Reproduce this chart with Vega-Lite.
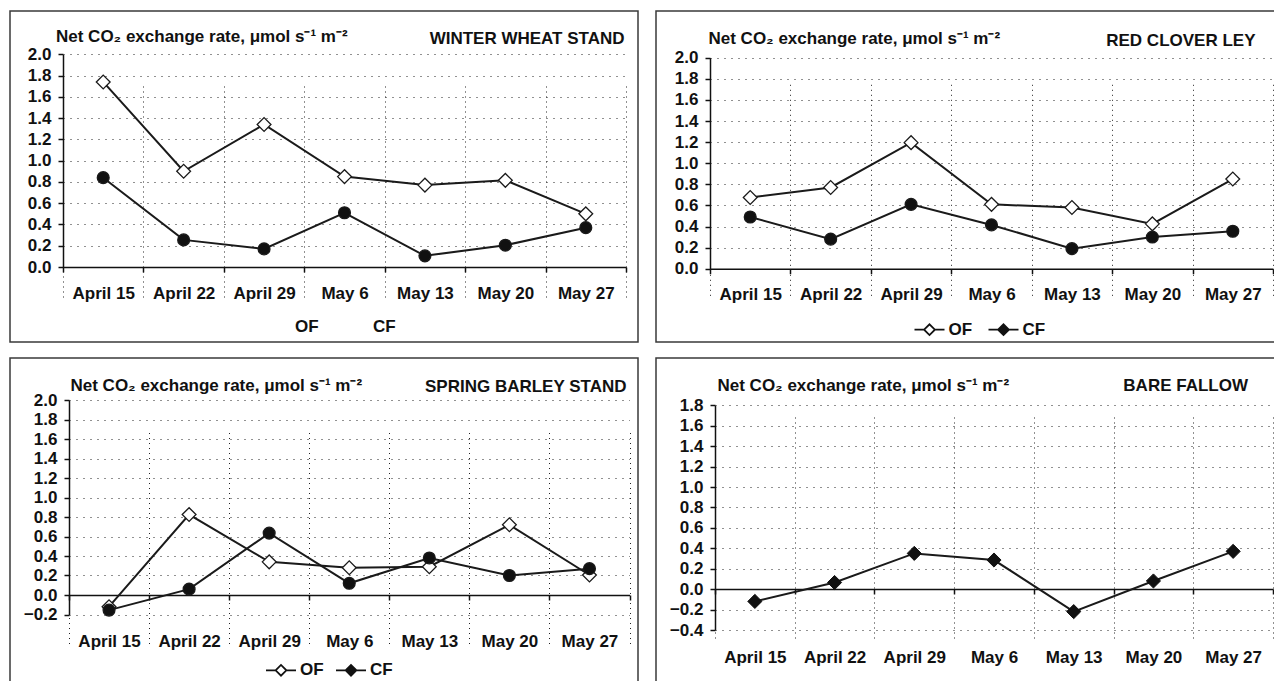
{
  "$schema": "https://vega.github.io/schema/vega-lite/v6.json",
  "padding": {"left": 9, "top": 10, "right": 0, "bottom": 0},
  "background": "white",
  "spacing": 14,
  "config": {
    "font": "Liberation Sans",
    "view": {"stroke": "#3a3a3a", "strokeWidth": 1.5},
    "axis": {
      "labelFont": "Liberation Sans", "labelFontSize": 17, "labelFontWeight": "bold", "labelColor": "#111",
      "titleFont": "Liberation Sans", "titleFontSize": 17, "titleFontWeight": "bold", "titleColor": "#111",
      "domainColor": "#111", "domainWidth": 1.5, "tickColor": "#111", "tickWidth": 1.5, "tickSize": 5,
      "gridColor": "#222", "gridWidth": 1, "gridOpacity": 1
    },
    "axisX": {"gridDash": [1, 4], "labelAngle": 0, "titleAlign": "right", "titleBaseline": "middle"},
    "axisY": {"gridDash": [1, 6], "titleAngle": 0, "titleAlign": "left", "titleBaseline": "middle", "format": ".1f", "labelPadding": 7},
    "legend": {"labelFont": "Liberation Sans", "labelFontSize": 17, "labelFontWeight": "bold", "labelColor": "#111", "padding": 0}
  },
  "datasets": {
    "rows": [
      {"panel": "wheat", "series": "OF", "date": "April 15", "value": 1.74},
      {"panel": "wheat", "series": "OF", "date": "April 22", "value": 0.9},
      {"panel": "wheat", "series": "OF", "date": "April 29", "value": 1.34},
      {"panel": "wheat", "series": "OF", "date": "May 6", "value": 0.85},
      {"panel": "wheat", "series": "OF", "date": "May 13", "value": 0.77},
      {"panel": "wheat", "series": "OF", "date": "May 20", "value": 0.815},
      {"panel": "wheat", "series": "OF", "date": "May 27", "value": 0.5},
      {"panel": "wheat", "series": "CF", "date": "April 15", "value": 0.84},
      {"panel": "wheat", "series": "CF", "date": "April 22", "value": 0.255},
      {"panel": "wheat", "series": "CF", "date": "April 29", "value": 0.17},
      {"panel": "wheat", "series": "CF", "date": "May 6", "value": 0.51},
      {"panel": "wheat", "series": "CF", "date": "May 13", "value": 0.105},
      {"panel": "wheat", "series": "CF", "date": "May 20", "value": 0.205},
      {"panel": "wheat", "series": "CF", "date": "May 27", "value": 0.37},
      {"panel": "clover", "series": "OF", "date": "April 15", "value": 0.675},
      {"panel": "clover", "series": "OF", "date": "April 22", "value": 0.77},
      {"panel": "clover", "series": "OF", "date": "April 29", "value": 1.195},
      {"panel": "clover", "series": "OF", "date": "May 6", "value": 0.61},
      {"panel": "clover", "series": "OF", "date": "May 13", "value": 0.58},
      {"panel": "clover", "series": "OF", "date": "May 20", "value": 0.425},
      {"panel": "clover", "series": "OF", "date": "May 27", "value": 0.85},
      {"panel": "clover", "series": "CF", "date": "April 15", "value": 0.49},
      {"panel": "clover", "series": "CF", "date": "April 22", "value": 0.28},
      {"panel": "clover", "series": "CF", "date": "April 29", "value": 0.61},
      {"panel": "clover", "series": "CF", "date": "May 6", "value": 0.415},
      {"panel": "clover", "series": "CF", "date": "May 13", "value": 0.19},
      {"panel": "clover", "series": "CF", "date": "May 20", "value": 0.3},
      {"panel": "clover", "series": "CF", "date": "May 27", "value": 0.355},
      {"panel": "barley", "series": "OF", "date": "April 15", "value": -0.12},
      {"panel": "barley", "series": "OF", "date": "April 22", "value": 0.825},
      {"panel": "barley", "series": "OF", "date": "April 29", "value": 0.34},
      {"panel": "barley", "series": "OF", "date": "May 6", "value": 0.28},
      {"panel": "barley", "series": "OF", "date": "May 13", "value": 0.29},
      {"panel": "barley", "series": "OF", "date": "May 20", "value": 0.72},
      {"panel": "barley", "series": "OF", "date": "May 27", "value": 0.205},
      {"panel": "barley", "series": "CF", "date": "April 15", "value": -0.155},
      {"panel": "barley", "series": "CF", "date": "April 22", "value": 0.06},
      {"panel": "barley", "series": "CF", "date": "April 29", "value": 0.635},
      {"panel": "barley", "series": "CF", "date": "May 6", "value": 0.12},
      {"panel": "barley", "series": "CF", "date": "May 13", "value": 0.38},
      {"panel": "barley", "series": "CF", "date": "May 20", "value": 0.2},
      {"panel": "barley", "series": "CF", "date": "May 27", "value": 0.27},
      {"panel": "fallow", "series": "BF", "date": "April 15", "value": -0.12},
      {"panel": "fallow", "series": "BF", "date": "April 22", "value": 0.065},
      {"panel": "fallow", "series": "BF", "date": "April 29", "value": 0.35},
      {"panel": "fallow", "series": "BF", "date": "May 6", "value": 0.285},
      {"panel": "fallow", "series": "BF", "date": "May 13", "value": -0.22},
      {"panel": "fallow", "series": "BF", "date": "May 20", "value": 0.08},
      {"panel": "fallow", "series": "BF", "date": "May 27", "value": 0.37}
    ]
  },
  "vconcat": [
    {
      "spacing": 16,
      "hconcat": [
        {
          "width": 628, "height": 331,
          "data": {"name": "rows"},
          "transform": [{"filter": "datum.panel === 'wheat'"}],
          "encoding": {
            "x": {"field": "date", "type": "nominal", "bandPosition": 0.5,
              "sort": ["April 15", "April 22", "April 29", "May 6", "May 13", "May 20", "May 27"],
              "scale": {"type": "band", "range": [53, 616], "paddingInner": 0, "paddingOuter": 0},
              "axis": {"title": "WINTER WHEAT STAND", "offset": -75, "tickBand": "extent", "grid": true, "labelPadding": 13, "titleX": 614, "titleY": -229}},
            "y": {"field": "value", "type": "quantitative",
              "scale": {"domain": [0, 2], "range": [256, 43.3], "nice": false, "zero": false},
              "axis": {"title": "Net CO₂ exchange rate, μmol s⁻¹ m⁻²", "offset": -53, "grid": true, "values": [0, 0.2, 0.4, 0.6, 0.8, 1, 1.2, 1.4, 1.6, 1.8, 2], "titleX": -7.5, "titleY": 25}}
          },
          "layer": [
            {"mark": {"type": "line", "color": "#1a1a1a", "strokeWidth": 2}, "encoding": {"detail": {"field": "series"}}},
            {"transform": [{"filter": "datum.series === 'OF'"}], "mark": {"type": "point", "shape": "diamond", "filled": true, "fill": "white", "stroke": "#1a1a1a", "strokeWidth": 1.3, "size": 190, "opacity": 1}, "encoding": {}},
            {"transform": [{"filter": "datum.series === 'CF'"}], "mark": {"type": "point", "shape": "circle", "filled": true, "fill": "#111", "stroke": "#1a1a1a", "strokeWidth": 1.3, "size": 140, "opacity": 1}, "encoding": {}},
            {"mark": {"type": "point", "filled": true, "fill": "white", "stroke": "#111", "opacity": 0},
              "encoding": {"shape": {"field": "series", "type": "nominal",
                "scale": {"domain": ["OF", "CF"], "range": ["M-1,0H-0.36M0.36,0H1M-0.36,0L0,-0.36L0.36,0L0,0.36Z", "M-1,0H1M0.36,0A0.36,0.36 0 1,1 -0.36,0A0.36,0.36 0 1,1 0.36,0ZM0.3,0A0.3,0.3 0 1,1 -0.3,0A0.3,0.3 0 1,1 0.3,0ZM0.24,0A0.24,0.24 0 1,1 -0.24,0A0.24,0.24 0 1,1 0.24,0ZM0.18,0A0.18,0.18 0 1,1 -0.18,0A0.18,0.18 0 1,1 0.18,0ZM0.12,0A0.12,0.12 0 1,1 -0.12,0A0.12,0.12 0 1,1 0.12,0ZM0.06,0A0.06,0.06 0 1,1 -0.06,0A0.06,0.06 0 1,1 0.06,0Z"]},
                "legend": {"orient": "none", "legendX": 250, "legendY": 300, "direction": "horizontal", "title": null, "symbolSize": 900, "labelOffset": 3, "columnPadding": 16, "symbolFillColor": "white", "symbolStrokeColor": "#111", "symbolStrokeWidth": 1.8, "symbolOpacity": 1}}}}
          ]
        },
        {
          "width": 628, "height": 331,
          "data": {"name": "rows"},
          "transform": [{"filter": "datum.panel === 'clover'"}],
          "encoding": {
            "x": {"field": "date", "type": "nominal", "bandPosition": 0.5,
              "sort": ["April 15", "April 22", "April 29", "May 6", "May 13", "May 20", "May 27"],
              "scale": {"type": "band", "range": [54, 617], "paddingInner": 0, "paddingOuter": 0},
              "axis": {"title": "RED CLOVER LEY", "offset": -73.3, "tickBand": "extent", "grid": true, "labelPadding": 13, "titleX": 599, "titleY": -228.7}},
            "y": {"field": "value", "type": "quantitative",
              "scale": {"domain": [0, 2], "range": [257.7, 46.7], "nice": false, "zero": false},
              "axis": {"title": "Net CO₂ exchange rate, μmol s⁻¹ m⁻²", "offset": -54, "grid": true, "values": [0, 0.2, 0.4, 0.6, 0.8, 1, 1.2, 1.4, 1.6, 1.8, 2], "titleX": -2, "titleY": 27.7}}
          },
          "layer": [
            {"mark": {"type": "line", "color": "#1a1a1a", "strokeWidth": 2}, "encoding": {"detail": {"field": "series"}}},
            {"transform": [{"filter": "datum.series === 'OF'"}], "mark": {"type": "point", "shape": "diamond", "filled": true, "fill": "white", "stroke": "#1a1a1a", "strokeWidth": 1.3, "size": 190, "opacity": 1}, "encoding": {}},
            {"transform": [{"filter": "datum.series === 'CF'"}], "mark": {"type": "point", "shape": "circle", "filled": true, "fill": "#111", "stroke": "#1a1a1a", "strokeWidth": 1.3, "size": 140, "opacity": 1}, "encoding": {}},
            {"mark": {"type": "point", "filled": true, "stroke": "#111", "opacity": 0},
              "encoding": {"fill": {"field": "series", "type": "nominal",
                "scale": {"domain": ["OF ", "CF "], "range": ["white", "#111"]},
                "legend": {"orient": "none", "legendX": 903.5, "legendY": 302.7, "direction": "horizontal", "title": null, "symbolSize": 900, "labelOffset": 3, "columnPadding": 12, "symbolType": "M-1,0H-0.36M0.36,0H1M-0.36,0L0,-0.36L0.36,0L0,0.36Z", "symbolStrokeColor": "#111", "symbolStrokeWidth": 1.8, "symbolOpacity": 1}}}}
          ]
        }
      ]
    },
    {
      "spacing": 16,
      "hconcat": [
        {
          "width": 628, "height": 331,
          "data": {"name": "rows"},
          "transform": [{"filter": "datum.panel === 'barley'"}],
          "encoding": {
            "x": {"field": "date", "type": "nominal", "bandPosition": 0.5,
              "sort": ["April 15", "April 22", "April 29", "May 6", "May 13", "May 20", "May 27"],
              "scale": {"type": "band", "range": [59, 619.5], "paddingInner": 0, "paddingOuter": 0},
              "axis": {"title": "SPRING BARLEY STAND", "offset": -94, "tickBand": "extent", "grid": true, "labelPadding": 33, "titleX": 616, "titleY": -209}},
            "y": {"field": "value", "type": "quantitative",
              "scale": {"domain": [-0.2, 2], "range": [256.5, 42], "nice": false, "zero": false},
              "axis": {"title": "Net CO₂ exchange rate, μmol s⁻¹ m⁻²", "offset": -59, "grid": true, "values": [-0.2, 0, 0.2, 0.4, 0.6, 0.8, 1, 1.2, 1.4, 1.6, 1.8, 2], "titleX": 1, "titleY": 27.7}}
          },
          "layer": [
            {"mark": {"type": "line", "color": "#1a1a1a", "strokeWidth": 2}, "encoding": {"detail": {"field": "series"}}},
            {"transform": [{"filter": "datum.series === 'OF'"}], "mark": {"type": "point", "shape": "diamond", "filled": true, "fill": "white", "stroke": "#1a1a1a", "strokeWidth": 1.3, "size": 190, "opacity": 1}, "encoding": {}},
            {"transform": [{"filter": "datum.series === 'CF'"}], "mark": {"type": "point", "shape": "circle", "filled": true, "fill": "#111", "stroke": "#1a1a1a", "strokeWidth": 1.3, "size": 140, "opacity": 1}, "encoding": {}},
            {"mark": {"type": "point", "filled": true, "stroke": "#111", "opacity": 0},
              "encoding": {"color": {"field": "series", "type": "nominal",
                "scale": {"domain": ["OF  ", "CF  "], "range": ["white", "#111"]},
                "legend": {"orient": "none", "legendX": 255, "legendY": 643.3, "direction": "horizontal", "title": null, "symbolSize": 900, "labelOffset": 3, "columnPadding": 8, "symbolType": "M-1,0H-0.36M0.36,0H1M-0.36,0L0,-0.36L0.36,0L0,0.36Z", "symbolStrokeColor": "#111", "symbolStrokeWidth": 1.8, "symbolOpacity": 1}}}}
          ]
        },
        {
          "width": 628, "height": 331,
          "data": {"name": "rows"},
          "transform": [{"filter": "datum.panel === 'fallow'"}],
          "encoding": {
            "x": {"field": "date", "type": "nominal", "bandPosition": 0.5,
              "sort": ["April 15", "April 22", "April 29", "May 6", "May 13", "May 20", "May 27"],
              "scale": {"type": "band", "range": [59, 617], "paddingInner": 0, "paddingOuter": 0},
              "axis": {"title": "BARE FALLOW", "offset": -100, "tickBand": "extent", "grid": true, "labelPadding": 55, "titleX": 591.5, "titleY": -204}},
            "y": {"field": "value", "type": "quantitative",
              "scale": {"domain": [-0.4, 1.8], "range": [272, 47.3], "nice": false, "zero": false},
              "axis": {"title": "Net CO₂ exchange rate, μmol s⁻¹ m⁻²", "offset": -59, "grid": true, "values": [-0.4, -0.2, 0, 0.2, 0.4, 0.6, 0.8, 1, 1.2, 1.4, 1.6, 1.8], "titleX": 2, "titleY": 27}}
          },
          "layer": [
            {"mark": {"type": "line", "color": "#1a1a1a", "strokeWidth": 2}, "encoding": {}},
            {"mark": {"type": "point", "shape": "diamond", "filled": true, "fill": "#111", "stroke": "#111", "strokeWidth": 1, "size": 200, "opacity": 1}, "encoding": {}}
          ]
        }
      ]
    }
  ]
}
